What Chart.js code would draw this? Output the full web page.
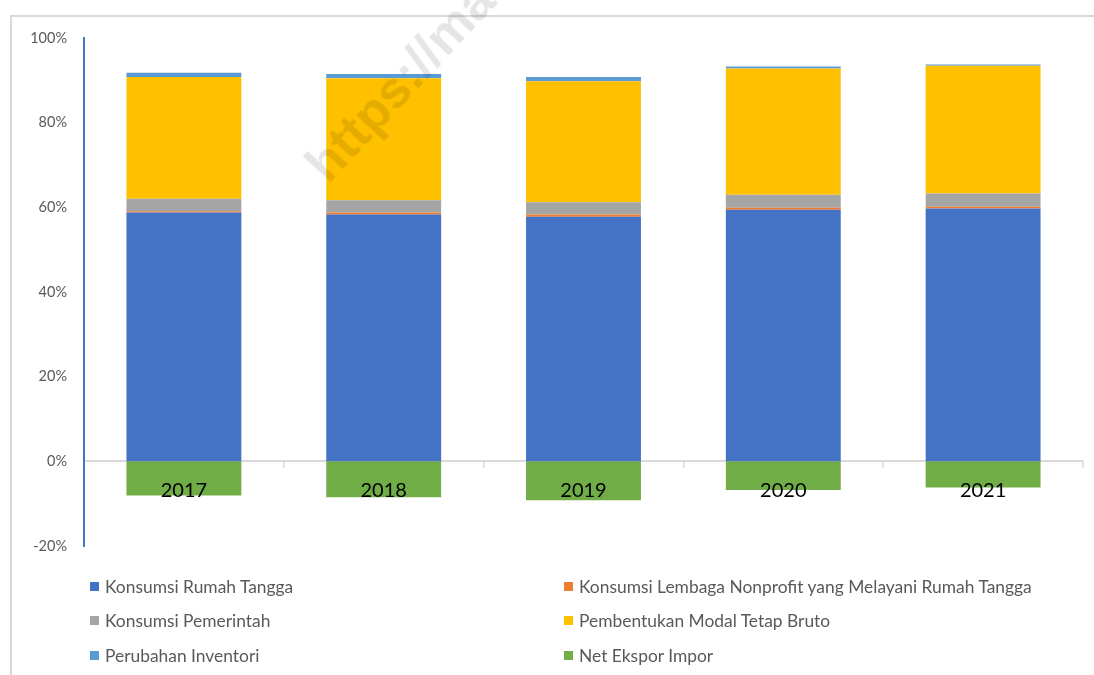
<!DOCTYPE html>
<html>
<head>
<meta charset="utf-8">
<script src="https://cdn.jsdelivr.net/npm/chart.js@4.4.0/dist/chart.umd.min.js"></script>
<style>
  body { margin: 0; background: #fff; }
  #page { position: relative; width: 1094px; height: 675px; overflow: hidden; font-family: Lato, sans-serif; }
  #frame { position: absolute; left: 10px; top: 15px; width: 1200px; height: 800px;
           border-left: 2px solid #d9d9d9; border-top: 2px solid #d9d9d9; }
  #wrap { position: absolute; left: 0; top: 0; width: 1094px; height: 675px; }
  .item { position: absolute; height: 20px; line-height: 20px; font-size: 17.4px; color: #595959; white-space: nowrap; }
  .item i { position: absolute; left: 0; top: 5px; width: 9px; height: 9px; }
  .item span { position: absolute; left: 15px; top: 0; }
  #mark { position: absolute; left: 337px; top: 133px; transform: rotate(-47deg); transform-origin: 0 100%;
          font: bold 52px "Liberation Sans", Arial, sans-serif; color: rgba(0,0,0,0.1); white-space: nowrap; }
</style>
</head>
<body>
<div id="page">
  <div id="frame"></div>
  <div id="wrap"><canvas id="chart" width="1094" height="675"></canvas></div>
  <div id="legend"></div>
  <div id="mark">https://mal</div>
</div>
<script>
const years = ['2017', '2018', '2019', '2020', '2021'];
const yTicks = [-20, 0, 20, 40, 60, 80, 100];

// share of GDP by expenditure, percent
const rumahTangga = [58.8, 58.3, 57.8, 59.4, 59.7];
const lnprt = [0.3, 0.5, 0.5, 0.5, 0.45];
const pemerintah = [2.9, 2.9, 2.9, 3.1, 3.1];
const pmtb = [28.8, 28.8, 28.6, 29.8, 30.2];
const inventori = [1.0, 1.0, 1.0, 0.45, 0.3];
const netEkspor = [-8.1, -8.5, -9.2, -6.8, -6.2];

const seriesNames = [
    'Konsumsi Rumah Tangga',
    'Konsumsi Lembaga Nonprofit yang Melayani Rumah Tangga',
    'Konsumsi Pemerintah',
    'Pembentukan Modal Tetap Bruto',
    'Perubahan Inventori',
    'Net Ekspor Impor'
];
const seriesColors = ['#4472C4', '#ED7D31', '#A5A5A5', '#FFC000', '#5B9BD5', '#70AD47'];
const seriesValues = [rumahTangga, lnprt, pemerintah, pmtb, inventori, netEkspor];

const datasets = seriesNames.map((name, i) => ({
    label: name,
    data: seriesValues[i],
    backgroundColor: seriesColors[i],
    borderWidth: 0,
    barPercentage: 0.575,
    categoryPercentage: 1
}));

// the year labels sit on top of the green bars, so draw them after the datasets
const yearLabelsOnTop = {
    id: 'yearLabelsOnTop',
    afterDatasetsDraw(chart) {
        const x = chart.scales.x;
        const y0 = chart.scales.y.getPixelForValue(0);
        const ctx = chart.ctx;
        ctx.save();
        ctx.fillStyle = '#000';
        ctx.font = '20px Lato';
        ctx.textAlign = 'center';
        ctx.textBaseline = 'middle';
        x.ticks.forEach((t, i) => {
            ctx.fillText(x.getLabelForValue(t.value), x.getPixelForTick(i), y0 + 29);
        });
        ctx.restore();
    }
};

const chart = new Chart(document.getElementById('chart'), {
    type: 'bar',
    data: { labels: years, datasets: datasets },
    options: {
        responsive: false,
        animation: false,
        layout: { padding: { left: 10, top: 38, right: 11, bottom: 129 } },
        plugins: { legend: { display: false }, tooltip: { enabled: false } },
        scales: {
            x: {
                stacked: true,
                position: { y: 0 },
                grid: { offset: true, drawOnChartArea: false, tickLength: 6, color: '#d9d9d9', lineWidth: 1.5 },
                border: { color: '#d9d9d9', width: 2 },
                ticks: { display: false }
            },
            y: {
                stacked: true,
                min: -20,
                max: 100,
                afterFit: scale => { scale.width = 74; },
                afterBuildTicks: scale => { scale.ticks = yTicks.map(v => ({ value: v })); },
                grid: { display: false },
                border: { color: '#4472C4', width: 2 },
                ticks: {
                    color: '#595959',
                    padding: 9,
                    font: { family: 'Lato', size: 14.5 },
                    callback: v => v + '%'
                }
            }
        }
    },
    plugins: [yearLabelsOnTop]
});

// legend in two columns, same order as the datasets
const legendX = [90, 564];
const legendY = [577, 611, 646];
const legend = document.getElementById('legend');
chart.data.datasets.forEach((ds, i) => {
    const item = document.createElement('div');
    item.className = 'item';
    item.style.left = legendX[i % 2] + 'px';
    item.style.top = legendY[Math.floor(i / 2)] + 'px';
    item.innerHTML = '<i style="background:' + ds.backgroundColor + '"></i><span>' + ds.label + '</span>';
    legend.appendChild(item);
});
</script>
</body>
</html>
